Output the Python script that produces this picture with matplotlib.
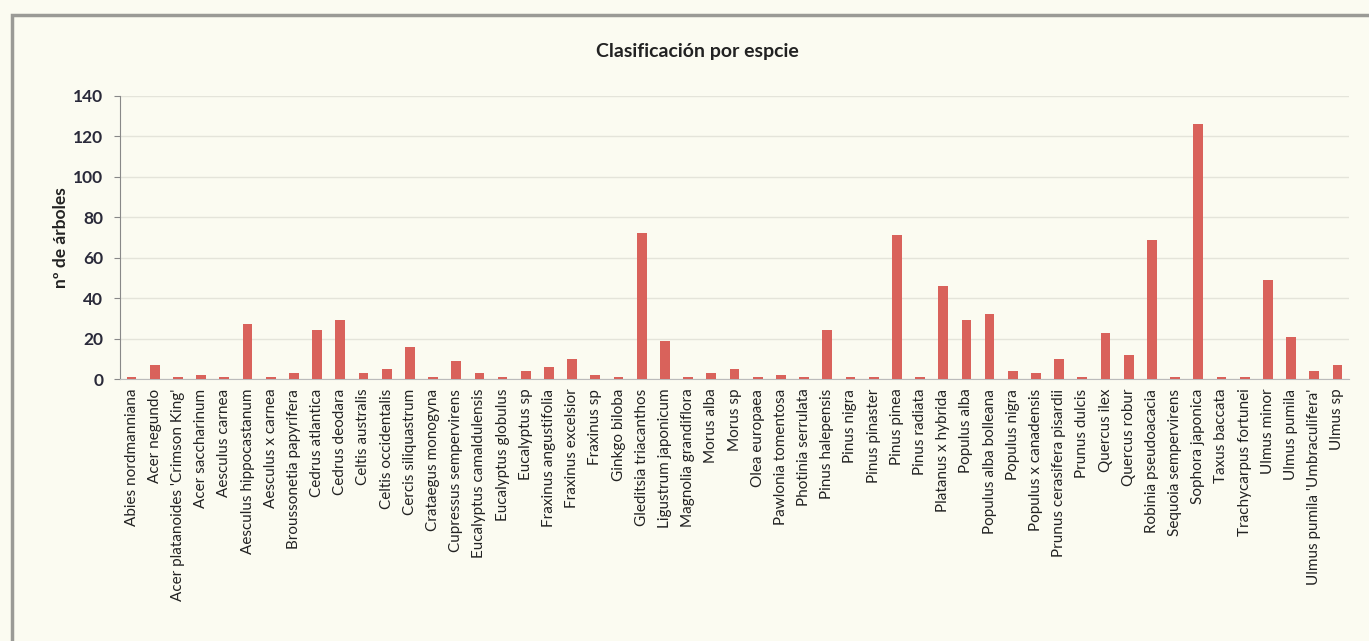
import matplotlib
matplotlib.use("Agg")
import matplotlib.pyplot as plt
from matplotlib.patches import Rectangle

# Species names and tree counts
species = [
    "Abies nordmanniana", "Acer negundo", "Acer platanoides 'Crimson King'",
    "Acer saccharinum", "Aesculus carnea", "Aesculus hippocastanum",
    "Aesculus x carnea", "Broussonetia papyrifera", "Cedrus atlantica",
    "Cedrus deodara", "Celtis australis", "Celtis occidentalis",
    "Cercis siliquastrum", "Crataegus monogyna", "Cupressus sempervirens",
    "Eucalyptus camaldulensis", "Eucalyptus globulus", "Eucalyptus sp",
    "Fraxinus angustifolia", "Fraxinus excelsior", "Fraxinus sp",
    "Ginkgo biloba", "Gleditsia triacanthos", "Ligustrum japonicum",
    "Magnolia grandiflora", "Morus alba", "Morus sp", "Olea europaea",
    "Pawlonia tomentosa", "Photinia serrulata", "Pinus halepensis",
    "Pinus nigra", "Pinus pinaster", "Pinus pinea", "Pinus radiata",
    "Platanus x hybrida", "Populus alba", "Populus alba bolleana",
    "Populus nigra", "Populus x canadensis", "Prunus cerasifera pisardii",
    "Prunus dulcis", "Quercus ilex", "Quercus robur", "Robinia pseudoacacia",
    "Sequoia sempervirens", "Sophora japonica", "Taxus baccata",
    "Trachycarpus fortunei", "Ulmus minor", "Ulmus pumila",
    "Ulmus pumila 'Umbraculifera'", "Ulmus sp",
]
counts = [
    1, 7, 1, 2, 1, 27, 1, 3, 24, 29, 3, 5, 16, 1, 9, 3, 1, 4, 6, 10, 2, 1,
    72, 19, 1, 3, 5, 1, 2, 1, 24, 1, 1, 71, 1, 46, 29, 32, 4, 3, 10, 1, 23,
    12, 69, 1, 126, 1, 1, 49, 21, 4, 7,
]
y_ticks = [0, 20, 40, 60, 80, 100, 120, 140]

plt.rcParams['font.family'] = ['Lato', 'DejaVu Sans']
bg = "#fbfbf1"

fig = plt.figure(figsize=(13.69, 6.41), dpi=100, facecolor=bg)
ax = fig.add_axes([120 / 1369, 1 - 379 / 641, 1229 / 1369, (379 - 96) / 641])
ax.set_facecolor(bg)

x = range(len(species))
ax.bar(x, counts, width=0.42, color="#d9625b", zorder=3)

ax.set_xlim(-0.5, len(species) - 0.5)
ax.set_ylim(0, 140)
ax.set_yticks(y_ticks)
ax.set_yticklabels([str(v) for v in y_ticks], fontsize=12.5, fontweight="bold",
                   color="#2a2a3a")
ax.set_xticks(list(x))
ax.set_xticklabels(species, rotation=90, fontsize=11, color="#222222")
ax.tick_params(axis="x", length=0, pad=7)
ax.tick_params(axis="y", length=4, color="#888888", pad=8)

ax.grid(axis="y", color="#e4e4da", linewidth=1, zorder=0)
for side in ["top", "right"]:
    ax.spines[side].set_visible(False)
ax.spines["left"].set_color("#888888")
ax.spines["bottom"].set_color("#bbbbbb")

ax.set_ylabel("nº de árboles", fontsize=12.5, fontweight="bold",
              color="#222222", labelpad=3)
fig.text(697 / 1369, 1 - 52 / 641, "Clasificación por espcie", ha="center",
         va="center", fontsize=14, fontweight="bold", color="#222222")

# outer chart frame from the scan
fig.patches.append(Rectangle((12 / 1369, -0.1), 1.2, 1.1 - 15 / 641,
                             transform=fig.transFigure, fill=False,
                             edgecolor="#9a9a96", linewidth=2.5))

plt.savefig("out.png", dpi=100, facecolor=bg)
